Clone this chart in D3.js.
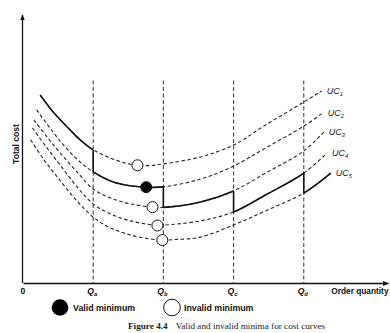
<!DOCTYPE html>
<html>
<head>
<meta charset="utf-8">
<script src="https://cdn.jsdelivr.net/npm/d3@7"></script>
<style>
  html, body { margin: 0; padding: 0; background: #fff; }
  svg { display: block; }
</style>
</head>
<body>
<svg id="chart" width="390" height="333"></svg>
<script>
// ---------- data ----------
const breakQ = [20, 40, 60, 80];            // Qa, Qb, Qc, Qd
const breakLabels = ["a", "b", "c", "d"];
const curveNames = ["1", "2", "3", "4", "5"];
// [order quantity, total cost]
const uc1 = [[4.9,69.6],[8.6,63.3],[12.6,57.8],[16.3,53.0],[20,49.3],[24.9,46.3],[29.1,44.4],[32.6,43.6],[36.3,43.5],[40,44.1],[50.6,46.7],[60,51.1],[69.1,58.5],[80,67.0],[85.1,71.1]];
const uc2 = [[3.9,64.1],[7.7,57.4],[12,50.4],[16.3,44.8],[20,41.1],[24.9,37.8],[29.1,36.3],[35.1,35.5],[40,35.6],[50.6,38.5],[60,43.3],[69.1,50.0],[80,58.1],[85.4,63.0]];
const uc3 = [[3.1,60.4],[7.1,53.7],[11.1,47.4],[15.7,40.7],[20,34.8],[24.9,31.5],[30.6,29.3],[36.9,28.1],[40,28.0],[50.6,30.0],[60,34.1],[69.1,40.7],[80,48.9],[85.7,55.9]];
const uc4 = [[2.7,57.4],[6.6,50.4],[10.6,43.7],[15.4,35.6],[20,29.3],[24.9,25.6],[30.6,23.0],[38.3,21.3],[40,21.4],[50.6,23.0],[60,26.3],[69.1,32.6],[80,40.7],[86.6,48.1]];
const uc5 = [[2.2,53.0],[6,45.6],[10,38.9],[14.9,31.1],[20,24.4],[24.9,20.4],[30.6,17.8],[36.3,16.3],[39.7,15.9],[43.4,16.1],[50.6,17.0],[60,21.5],[69.1,26.7],[80,33.3],[87.7,40.7]];
const minQ = [32.6, 35.1, 36.9, 38.3, 39.7];
const minCost = [43.6, 35.5, 28.1, 21.3, 15.9];
const minValid = [false, true, false, false, false];
const dropTop = 75;   // top of the dashed break lines (cost units)

// ---------- layout ----------
const svg = d3.select("#chart");
const x = d3.scaleLinear().domain([0, 104]).range([23, 388]);
const y = d3.scaleLinear().domain([0, 100]).range([283, 13]);
const curves = [uc1, uc2, uc3, uc4, uc5];
const ink = "#111";
const sans = "Liberation Sans, Arial, sans-serif";

const defs = svg.append("defs");
defs.append("marker").attr("id", "arrow")
  .attr("viewBox", "0 0 10 10").attr("refX", 9).attr("refY", 5)
  .attr("markerWidth", 6).attr("markerHeight", 6)
  .attr("markerUnits", "userSpaceOnUse")
  .attr("orient", "auto")
  .append("path").attr("d", "M0,1 L10,5 L0,9 Z").attr("fill", ink);

// dashed break lines
svg.append("g").selectAll("line").data(breakQ).join("line")
  .attr("x1", d => x(d)).attr("x2", d => x(d))
  .attr("y1", y(dropTop)).attr("y2", y(0))
  .attr("stroke", "#444").attr("stroke-width", 1.1)
  .attr("stroke-dasharray", "4,2.5");

// axes
const xAxis = svg.append("g").attr("transform", `translate(0,${y(0)})`)
  .call(d3.axisBottom(x).tickValues([]).tickSizeOuter(0));
xAxis.select(".domain").attr("stroke", ink).attr("stroke-width", 1.3)
  .attr("marker-end", "url(#arrow)");
const yAxis = svg.append("g").attr("transform", `translate(${x(0) - 0.5},0)`)
  .call(d3.axisLeft(y).tickValues([]).tickSizeOuter(0));
yAxis.select(".domain").attr("stroke", ink).attr("stroke-width", 1.3)
  .attr("d", `M0,${y(0)}V${y(100) + 2}`)
  .attr("marker-end", "url(#arrow)");

// curves
const line = d3.line().x(d => x(d[0])).y(d => y(d[1]))
  .curve(d3.curveCatmullRom.alpha(0.5));

svg.append("g").selectAll("path").data(curves).join("path")
  .attr("d", line).attr("fill", "none")
  .attr("stroke", "#222").attr("stroke-width", 1.1)
  .attr("stroke-dasharray", "3.5,2.5");

// solid (valid) envelope pieces
const segStart = [0, ...breakQ];
const segEnd = [...breakQ, 104];
curves.forEach((c, i) => {
  defs.append("clipPath").attr("id", "seg" + i).append("rect")
    .attr("x", x(segStart[i])).attr("y", 0)
    .attr("width", x(segEnd[i]) - x(segStart[i])).attr("height", 333);
  svg.append("path").attr("d", line(c)).attr("fill", "none")
    .attr("stroke", ink).attr("stroke-width", 1.6)
    .attr("clip-path", `url(#seg${i})`);
});
breakQ.forEach((q, k) => {
  const a = curves[k].find(d => d[0] === q);
  const b = curves[k + 1].find(d => d[0] === q);
  svg.append("line").attr("x1", x(q)).attr("x2", x(q))
    .attr("y1", y(a[1])).attr("y2", y(b[1]))
    .attr("stroke", ink).attr("stroke-width", 1.6);
});

// minima
svg.append("g").selectAll("circle").data(minQ).join("circle")
  .attr("cx", d => x(d)).attr("cy", (d, i) => y(minCost[i])).attr("r", 5.5)
  .attr("fill", (d, i) => minValid[i] ? "#000" : "#fff")
  .attr("stroke", "#111").attr("stroke-width", 1);

// curve labels
const ends = curves.map(c => c[c.length - 1]);
const ucLab = svg.append("g").selectAll("text").data(curveNames).join("text")
  .attr("x", (d, i) => x(ends[i][0]) + 5)
  .attr("y", (d, i) => y(ends[i][1]) + 3)
  .attr("font-family", sans)
  .attr("font-style", "italic").attr("font-size", 9).attr("fill", "#222");
ucLab.append("tspan").text("UC");
ucLab.append("tspan").attr("font-size", 5.8).attr("dy", 2).text(d => d);

// axis labels
const lab = svg.append("g").attr("font-family", sans)
  .attr("font-weight", "bold").attr("font-size", 8.6).attr("fill", ink);
lab.append("text").attr("x", x(0)).attr("y", y(0) + 11).attr("text-anchor", "middle").text("0");
const qt = lab.selectAll(".q").data(breakQ).join("text").attr("class", "q")
  .attr("x", d => x(d) - 1).attr("y", y(0) + 11).attr("text-anchor", "middle")
  .attr("font-style", "italic");
qt.append("tspan").text("Q");
qt.append("tspan").attr("font-size", 5.8).attr("dy", 1.5).text((d, i) => breakLabels[i]);
lab.append("text").attr("x", 388.5).attr("y", y(0) + 11)
  .attr("text-anchor", "end").attr("font-size", 8.3).text("Order quantity");
lab.append("text").attr("transform", `translate(18.5,144) rotate(-90)`)
  .attr("text-anchor", "middle").text("Total cost");

// legend
const leg = svg.append("g");
leg.append("circle").attr("cx", 60).attr("cy", 307.5).attr("r", 8.3).attr("fill", "#000");
leg.append("text").attr("x", 73).attr("y", 310.5)
  .attr("font-family", sans).attr("font-weight", "bold")
  .attr("font-size", 8.8).attr("fill", ink).text("Valid minimum");
leg.append("circle").attr("cx", 172).attr("cy", 307.5).attr("r", 8.3)
  .attr("fill", "#fff").attr("stroke", "#111").attr("stroke-width", 1);
leg.append("text").attr("x", 184).attr("y", 310.5)
  .attr("font-family", sans).attr("font-weight", "bold")
  .attr("font-size", 8.8).attr("fill", ink).text("Invalid minimum");

// caption
const cap = svg.append("text").attr("x", 128).attr("y", 328.5)
  .attr("font-family", "Liberation Serif, Times New Roman, serif")
  .attr("font-size", 9.2).attr("fill", "#222");
cap.append("tspan").attr("font-weight", "bold").text("Figure 4.4");
cap.append("tspan").attr("dx", 8).text("Valid and invalid minima for cost curves");
</script>
</body>
</html>
